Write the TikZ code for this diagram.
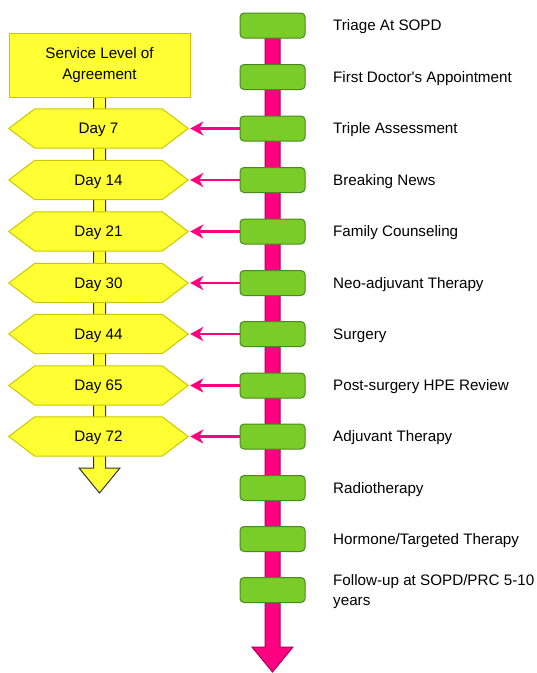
\documentclass[tikz,border=0pt]{standalone}
\usepackage{fontspec}
\setmainfont{Liberation Sans}
\usetikzlibrary{arrows.meta}
\definecolor{gfill}{HTML}{7ACC29}
\definecolor{gdraw}{HTML}{4A8A1C}
\definecolor{pfill}{HTML}{FF0080}
\definecolor{pdraw}{HTML}{A8005A}
\definecolor{yfill}{HTML}{FFFF33}
\definecolor{ydraw}{HTML}{C8C800}
\begin{document}
\begin{tikzpicture}[x=1pt,y=-1pt,
  txt/.style={font=\fontsize{15.2}{19.5}\selectfont, inner sep=0pt},
  gbox/.style={draw=gdraw, fill=gfill, line width=1pt, rounded corners=4pt, minimum width=65pt, minimum height=25pt, inner sep=0pt},
  daynode/.style={txt, minimum width=179pt, minimum height=39pt},
  hexa/.style={draw=ydraw, fill=yfill, line width=1pt},
  parrow/.style={draw=pfill, line width=2.5pt, -{Stealth[length=13pt,width=14pt,inset=4pt]}},
  lbl/.style={txt, anchor=west, align=left}]
\useasboundingbox (0,0) rectangle (537,673);
% yellow SLA arrow (bar + head)
\draw[fill=yfill, draw=black!80, line width=1pt]
  (93.5,96) -- (93.5,468) -- (79,468) -- (99.5,493) -- (120,468) -- (105.5,468) -- (105.5,96) -- cycle;
% SLA box
\node[txt, draw=ydraw, fill=yfill, line width=1pt, minimum width=181pt, minimum height=64pt, align=center] (sla) at (99.5,65) {Service Level of\\[1pt]Agreement};
% pink timeline arrow
\draw[fill=pfill, draw=pdraw, line width=1pt]
  (265,25) -- (265,647) -- (252,647) -- (272.5,672) -- (293,647) -- (280,647) -- (280,25) -- cycle;
% green boxes and labels
\foreach \i/\t [count=\k] in {25.5/{Triage At SOPD}, 77/{First Doctor\textquotesingle s Appointment}, 128.5/{Triple Assessment}, 180/{Breaking News}, 231.5/{Family Counseling}, 283/{Neo-adjuvant Therapy}, 334/{Surgery}, 385.5/{Post-surgery HPE Review}, 436.5/{Adjuvant Therapy}, 488/{Radiotherapy}, 539/{Hormone/Targeted Therapy}} {
  \node[gbox] (g\k) at (272.5,\i) {};
  \node[lbl] (l\k) at (333,\i+1.5) {\t};
}
\node[gbox] (g12) at (272.5,590) {};
\node[lbl] (l12) at (333,591.5) {Follow-up at SOPD/PRC 5-10\\years};
% day hexagons
\foreach \y/\d [count=\k from 3] in {128.5/7, 180/14, 231.5/21, 283/30, 334/44, 385.5/65, 436.5/72} {
  \node[daynode] (d\k) at (98.5,\y) {};
  \draw[hexa] (d\k.west) -- ([xshift=26pt]d\k.north west) -- ([xshift=-26pt]d\k.north east) -- (d\k.east) -- ([xshift=-26pt]d\k.south east) -- ([xshift=26pt]d\k.south west) -- cycle;
  \node[txt] (t\k) at ([yshift=-1.5pt]d\k.center) {Day \d};
  \draw[parrow] (g\k.west) -- ([xshift=2pt]d\k.east);
}
\end{tikzpicture}
\end{document}
